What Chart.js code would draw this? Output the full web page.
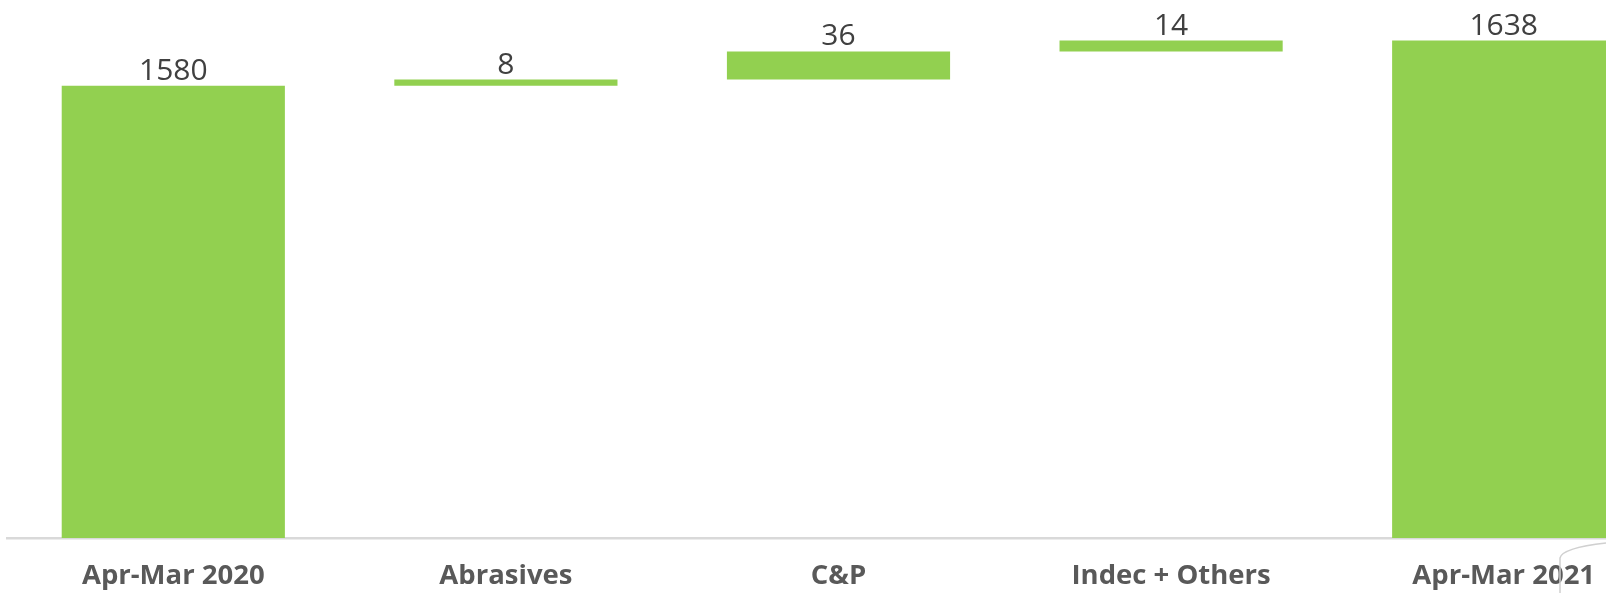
<!DOCTYPE html>
<html>
<head>
<meta charset="utf-8">
<script src="https://cdn.jsdelivr.net/npm/chart.js@4/dist/chart.umd.min.js"></script>
<style>
  html, body { margin: 0; padding: 0; background: #fff; overflow: hidden; width: 1606px; height: 593px; }
  #chart { position: absolute; left: 0; top: 0; display: block; }
</style>
</head>
<body>
<canvas id="chart" width="1670" height="593"></canvas>
<script>
// Waterfall data
const categories = ['Apr-Mar 2020', 'Abrasives', 'C&P', 'Indec + Others', 'Apr-Mar 2021'];
const values = [1580, 8, 36, 14, 1638];
const isTotal = [true, false, false, false, true];

const axisMin = 1000;
const axisMax = 1690;
const barColor = '#92d050';

// Build floating [start, end] ranges from the values
const ranges = [];
let running = 0;
for (let i = 0; i < values.length; i++) {
  if (isTotal[i]) {
    ranges.push([axisMin, values[i]]);
    running = values[i];
  } else {
    ranges.push([running, running + values[i]]);
    running += values[i];
  }
}

// Value labels above each bar
const valueLabels = {
  id: 'valueLabels',
  afterDatasetsDraw(chart) {
    const ctx = chart.ctx;
    const meta = chart.getDatasetMeta(0);
    ctx.save();
    ctx.fillStyle = '#404040';
    ctx.font = '30px "Open Sans"';
    ctx.textAlign = 'center';
    ctx.textBaseline = 'alphabetic';
    meta.data.forEach((bar, i) => {
      const top = Math.min(bar.y, bar.base);
      ctx.fillText(String(values[i]), bar.x, top - 6);
    });
    ctx.restore();
  }
};

// Small grey curve at the bottom-right corner
const cornerCurve = {
  id: 'cornerCurve',
  afterDraw(chart) {
    const ctx = chart.ctx;
    ctx.save();
    ctx.strokeStyle = '#d0d0d0';
    ctx.lineWidth = 1.5;
    ctx.beginPath();
    ctx.moveTo(1560, 593);
    ctx.lineTo(1560, 558);
    ctx.quadraticCurveTo(1562, 548, 1606, 543);
    ctx.stroke();
    ctx.restore();
  }
};

new Chart(document.getElementById('chart'), {
  type: 'bar',
  data: {
    labels: categories,
    datasets: [{
      data: ranges,
      backgroundColor: barColor,
      borderWidth: 0,
      barPercentage: 0.671,
      categoryPercentage: 1
    }]
  },
  options: {
    responsive: false,
    animation: false,
    devicePixelRatio: 1,
    layout: { padding: { left: 7, right: 0, top: 0, bottom: -22 } },
    plugins: { legend: { display: false }, tooltip: { enabled: false } },
    scales: {
      x: {
        z: 1,
        offset: true,
        grid: { display: false, drawTicks: false },
        border: { display: true, color: '#d9d9d9', width: 2.5 },
        ticks: {
          color: '#595959',
          padding: 22,
          font: { family: '"Open Sans"', size: 27.5, weight: 'bold', lineHeight: 1.2 }
        }
      },
      y: {
        display: false,
        min: axisMin,
        max: axisMax
      }
    }
  },
  plugins: [valueLabels, cornerCurve]
});
</script>
</body>
</html>
